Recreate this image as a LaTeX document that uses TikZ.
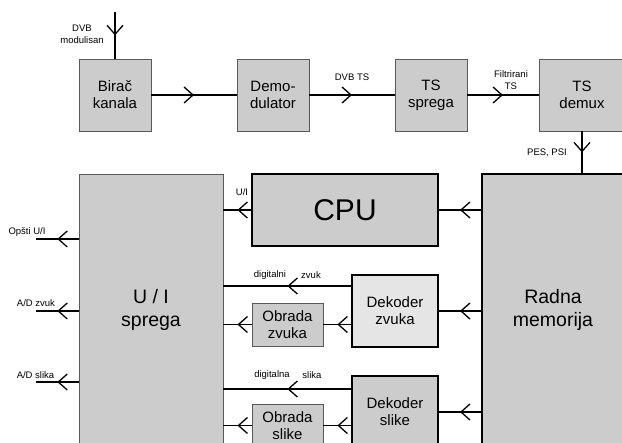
\documentclass[tikz,border=0pt]{standalone}
\usepackage{fontspec}
\setmainfont{Liberation Sans}
\usetikzlibrary{arrows.meta,decorations.markings}

\begin{document}
\begin{tikzpicture}[x=1pt,y=-1pt]
\tikzstyle{blok}=[rectangle,draw=black!65,fill=black!20,line width=0.8pt,align=center,font=\fontsize{15}{17}\selectfont]
\tikzstyle{veliki}=[blok,font=\fontsize{19.5}{23}\selectfont]
\tikzstyle{crni}=[draw=black,line width=1.2pt]
\tikzstyle{oznaka}=[align=center,inner sep=0pt,font=\fontsize{9.5}{12}\selectfont]
\tikzstyle{tok}=[line width=1.5pt,postaction={decorate},decoration={markings,mark=at position 0.5 with {\arrow{Straight Barb[length=9pt,width=16pt,line width=1.3pt]}}}]
\useasboundingbox (0,0) rectangle (622,443);
\clip (0,0) rectangle (622,443);
% gornji red
\node [blok,minimum width=72pt,minimum height=72pt] (birac) at (115,95) {Birač\\kanala};
\node [blok,minimum width=72pt,minimum height=72pt] (demod) at (273,95) {Demo-\\dulator};
\node [blok,minimum width=72pt,minimum height=72pt] (tssprega) at (431,95) {TS\\sprega};
\node [blok,minimum width=86pt,minimum height=72pt] (tsdemux) at (582,95) {TS\\demux};
% donji deo
\node [veliki,minimum width=144pt,minimum height=272pt] (uisprega) at (151,310) {U / I\\sprega};
\node [veliki,crni,minimum width=142pt,minimum height=272pt] (radna) at (553,310) {Radna\\memorija};
\node [blok,crni,minimum width=186pt,minimum height=72pt,font=\fontsize{30}{34}\selectfont] (cpu) at (345,210) {CPU};
\node [blok,crni,fill=black!10,minimum width=86pt,minimum height=72pt] (dekzvuk) at (395,311) {Dekoder\\zvuka};
\node [blok,minimum width=71pt,minimum height=43pt] (obzvuk) at (287.5,324.5) {Obrada\\zvuka};
\node [blok,crni,minimum width=86pt,minimum height=72pt] (dekslike) at (395,412) {Dekoder\\slike};
\node [blok,minimum width=71pt,minimum height=43pt] (obslike) at (287.5,425.5) {Obrada\\slike};
% natpisi
\node [oznaka] (lulaz) at (82,34) {DVB\\modulisan};
\node [oznaka] (ldvbts) at (352,77) {DVB TS};
\node [oznaka] (lfilt) at (511,80) {Filtrirani\\TS};
\node [oznaka] (lpes) at (547,153) {PES, PSI};
\node [oznaka] (lui) at (242,192) {U/I};
\node [oznaka] (lopsti) at (27,232) {Opšti U/I};
\node [oznaka] (ladzvuk) at (36,303) {A/D zvuk};
\node [oznaka] (ladslika) at (35.5,375) {A/D slika};
\node [oznaka] (ldigzv) at (270,275) {digitalni};
\node [oznaka] (lzvuk) at (311,275) {zvuk};
\node [oznaka] (ldigsl) at (272,375) {digitalna};
\node [oznaka] (lslika) at (312,375) {slika};
% slobodni krajevi
\coordinate (ulaz) at (115,12);
\coordinate (opsti) at (36,239);
\coordinate (adzvuk) at (36,311);
\coordinate (adslika) at (36,382);
\coordinate (digzvuk) at ([yshift=25pt]dekzvuk.west);
\coordinate (digslika) at ([yshift=23pt]dekslike.west);
% veze
\draw [tok] (ulaz) -- (birac.north);
\draw [tok] (birac.east) -- (demod.west);
\draw [tok] (demod.east) -- (tssprega.west);
\draw [tok] (tssprega.east) -- (tsdemux.west);
\draw [tok] (tsdemux.south) -- (tsdemux.south |- radna.north);
\draw [tok] (radna.west |- cpu.east) -- (cpu.east);
\draw [tok] (cpu.west) -- (uisprega.east |- cpu.west);
\draw [tok] (radna.west |- dekzvuk.east) -- (dekzvuk.east);
\draw [tok] (digzvuk) -- (uisprega.east |- digzvuk);
\draw [tok] (dekzvuk.west |- obzvuk.east) -- (obzvuk.east);
\draw [tok] (obzvuk.west) -- (uisprega.east |- obzvuk.west);
\draw [tok] (radna.west |- dekslike.east) -- (dekslike.east);
\draw [tok] (digslika) -- (uisprega.east |- digslika);
\draw [tok] (dekslike.west |- obslike.east) -- (obslike.east);
\draw [tok] (obslike.west) -- (uisprega.east |- obslike.west);
\draw [tok] (uisprega.west |- opsti) -- (opsti);
\draw [tok] (uisprega.west |- adzvuk) -- (adzvuk);
\draw [tok] (uisprega.west |- adslika) -- (adslika);
\end{tikzpicture}
\end{document}
